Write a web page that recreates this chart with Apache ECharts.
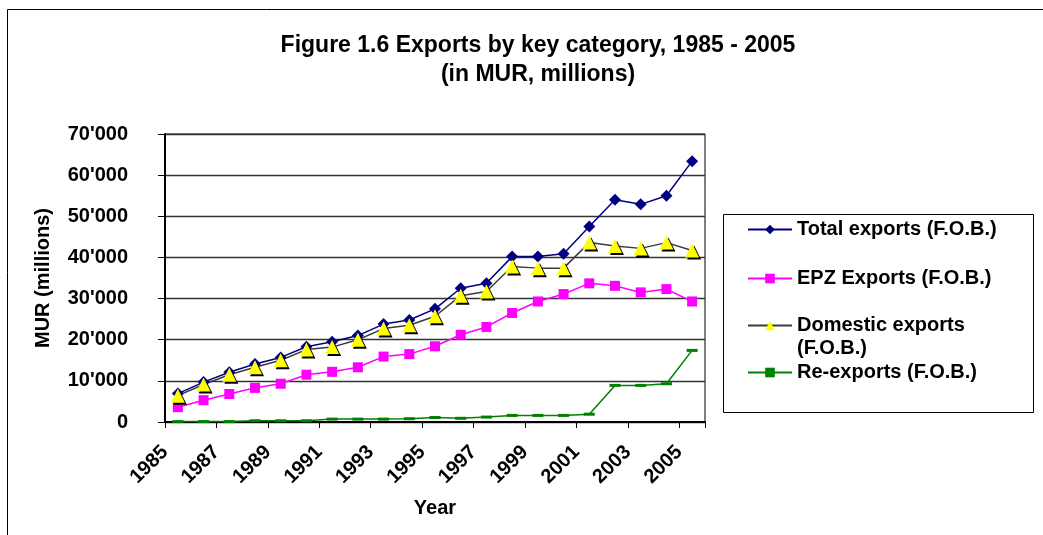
<!DOCTYPE html>
<html>
<head>
<meta charset="utf-8">
<title>Exports by key category, 1985 - 2005</title>
<script src="https://cdn.jsdelivr.net/npm/echarts@6/dist/echarts.min.js"></script>
<style>
  html, body { margin: 0; padding: 0; background: #fff; }
  #chart { width: 1043px; height: 535px; }
</style>
</head>
<body>
<div id="chart"></div>
<script>
// Exports by key category (MUR millions), 1985 - 2005
const years = [1985, 1986, 1987, 1988, 1989, 1990, 1991, 1992, 1993, 1994, 1995,
               1996, 1997, 1998, 1999, 2000, 2001, 2002, 2003, 2004, 2005];
const totalExports = [6900, 9700, 12100, 14100, 15700, 18300, 19500, 21000, 23800, 24800, 27500,
                      32500, 33700, 40200, 40200, 40900, 47500, 54000, 52900, 55000, 63400];
const epzExports = [3600, 5300, 6800, 8300, 9300, 11500, 12200, 13300, 15900, 16500, 18400,
                    21200, 23100, 26500, 29300, 31100, 33700, 33100, 31500, 32300, 29300];
const domesticExports = [6400, 9100, 11500, 13300, 15000, 17600, 18200, 20000, 22700, 23500, 25700,
                         30700, 31700, 37800, 37400, 37400, 43600, 42800, 42200, 43600, 41700];
const reExports = [100, 100, 100, 300, 300, 300, 700, 700, 700, 800, 1100,
                   900, 1200, 1600, 1600, 1600, 1900, 8900, 8900, 9300, 17400];
// year labels sit on the tick boundaries (one more boundary than categories)
const boundaryLabels = years.map(String).concat(['']);
const yTicks = [0, 10000, 20000, 30000, 40000, 50000, 60000, 70000];

const FONT = "'Liberation Sans', Arial, sans-serif";
const seriesNames = ['Total exports (F.O.B.)', 'EPZ Exports (F.O.B.)',
                     'Domestic exports (F.O.B.)', 'Re-exports (F.O.B.)'];

function fmtThousands(v) {
  return String(v).replace(/\B(?=(\d{3})+(?!\d))/g, "'");
}

const chart = echarts.init(document.getElementById('chart'), null, { renderer: 'canvas' });

const legendText = { fontFamily: FONT, fontWeight: 'bold', fontSize: 20, color: '#000', lineHeight: 23 };
function legendAt(name, top, extra) {
  return Object.assign({
    data: [name], left: 747, top: top, padding: 0,
    itemWidth: 44, itemHeight: 12, selectedMode: false,
    textStyle: Object.assign({}, legendText)
  }, extra || {});
}

chart.setOption({
  animation: false,
  backgroundColor: '#fff',
  title: {
    text: 'Figure 1.6 Exports by key category, 1985 - 2005\n(in MUR, millions)',
    left: 533, textAlign: 'center', top: 26,
    textStyle: { fontFamily: FONT, fontWeight: 'bold', fontSize: 23, lineHeight: 29, color: '#000' }
  },
  legend: [
    legendAt(seriesNames[0], 218),
    legendAt(seriesNames[1], 267),
    // blank first line keeps the marker level with "Domestic exports"
    legendAt(seriesNames[2], 291, {
      formatter: function () { return '\u00a0\nDomestic exports\n(F.O.B.)'; }
    }),
    legendAt(seriesNames[3], 361)
  ],
  grid: { left: 165, right: 338, top: 134, bottom: 113, show: true, borderColor: '#000', borderWidth: 1 },
  xAxis: [
    {
      type: 'category', data: years.map(String), boundaryGap: true,
      axisLine: { lineStyle: { color: '#000', width: 2 } },
      axisTick: { show: true, length: 6, lineStyle: { color: '#000', width: 1 } },
      axisLabel: { show: false },
      name: 'Year', nameLocation: 'middle', nameGap: 76,
      nameTextStyle: { fontFamily: FONT, fontWeight: 'bold', fontSize: 20, color: '#000' }
    },
    {
      type: 'category', data: boundaryLabels, boundaryGap: false, position: 'bottom',
      axisLine: { show: false }, axisTick: { show: false },
      axisLabel: {
        interval: 1, rotate: 45, margin: 27,
        fontFamily: FONT, fontWeight: 'bold', fontSize: 20, color: '#000'
      }
    }
  ],
  yAxis: {
    type: 'value', min: 0, max: 70000, interval: 10000,
    axisLine: { show: true, lineStyle: { color: '#000', width: 2 } },
    axisTick: { show: true, length: 7, lineStyle: { color: '#000', width: 1 } },
    splitLine: { show: true, lineStyle: { color: '#333', width: 1.3 } },
    axisLabel: {
      margin: 37, formatter: function (v) { return yTicks.indexOf(v) >= 0 ? fmtThousands(v) : ''; },
      fontFamily: FONT, fontWeight: 'bold', fontSize: 20, color: '#000'
    },
    name: 'MUR (millions)', nameLocation: 'middle', nameGap: 112, nameRotate: 90,
    nameTextStyle: { fontFamily: FONT, fontWeight: 'bold', fontSize: 20, color: '#000' }
  },
  series: [
    {
      name: seriesNames[0], type: 'line', xAxisIndex: 0, data: totalExports,
      symbol: 'diamond', symbolSize: 12,
      lineStyle: { color: '#000080', width: 1.5 },
      itemStyle: { color: '#000080' }
    },
    {
      name: seriesNames[1], type: 'line', xAxisIndex: 0, data: epzExports,
      symbol: 'rect', symbolSize: 10,
      lineStyle: { color: '#ff00ff', width: 1.5 },
      itemStyle: { color: '#ff00ff' }
    },
    {
      name: seriesNames[2], type: 'line', xAxisIndex: 0, data: domesticExports,
      symbol: 'triangle', symbolSize: 14,
      lineStyle: { color: '#3a3a3a', width: 1.5 },
      itemStyle: { color: '#ffff00', shadowColor: '#000', shadowOffsetX: 2, shadowOffsetY: 2, shadowBlur: 0 }
    },
    {
      name: seriesNames[3], type: 'line', xAxisIndex: 0, data: reExports,
      symbol: 'rect', symbolSize: [11, 3],
      lineStyle: { color: '#008000', width: 1.5 },
      itemStyle: { color: '#008000' }
    }
  ],
  graphic: [
    { type: 'polyline', shape: { points: [[7.5, 535], [7.5, 9.5], [1043, 9.5]] },
      style: { stroke: '#000', lineWidth: 1, fill: null }, silent: true },
    { type: 'rect', shape: { x: 723.5, y: 214.5, width: 310, height: 198 },
      style: { stroke: '#000', lineWidth: 1, fill: null }, silent: true, z: -1 }
  ]
});
</script>
</body>
</html>
